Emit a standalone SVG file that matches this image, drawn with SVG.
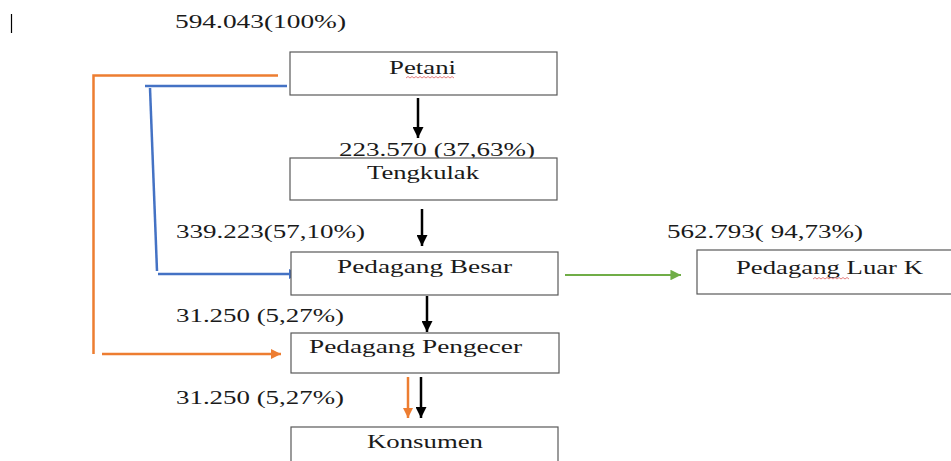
<svg xmlns="http://www.w3.org/2000/svg" width="951" height="461" viewBox="0 0 951 461">
<style>
.box{fill:#fff;stroke:#595959;stroke-width:1.2}
.t{font-family:"Liberation Serif","Times New Roman",serif;font-size:19px;fill:#1a1a1a}
.blk{stroke:#000;stroke-width:2.5;fill:none}
.org{stroke:#ED7D31;stroke-width:2.5;fill:none}
.blu{stroke:#4472C4;stroke-width:2.5;fill:none}
.grn{stroke:#70AD47;stroke-width:2.2;fill:none}
.sq{stroke:#E06060;stroke-width:0.8;fill:none}
</style>
<defs>
<marker id="ab" viewBox="0 0 10 10" refX="10" refY="5" markerWidth="4.4" markerHeight="4.4" markerUnits="strokeWidth" orient="auto"><path d="M0,0 L10,5 L0,10 z" fill="#000"/></marker>
<marker id="ao" viewBox="0 0 10 10" refX="10" refY="5" markerWidth="4.2" markerHeight="4.2" markerUnits="strokeWidth" orient="auto"><path d="M0,0 L10,5 L0,10 z" fill="#ED7D31"/></marker>
<marker id="au" viewBox="0 0 10 10" refX="10" refY="5" markerWidth="4.2" markerHeight="4.2" markerUnits="strokeWidth" orient="auto"><path d="M0,0 L10,5 L0,10 z" fill="#4472C4"/></marker>
<marker id="ag" viewBox="0 0 10 10" refX="10" refY="5" markerWidth="4.8" markerHeight="4.8" markerUnits="strokeWidth" orient="auto"><path d="M0,0 L10,5 L0,10 z" fill="#70AD47"/></marker>
</defs>
<rect width="951" height="461" fill="#fff"/>
<line x1="11.5" y1="14" x2="11.5" y2="33" stroke="#000" stroke-width="1.2"/>
<g id="labels">
<text class="t" x="175" y="28" textLength="171" lengthAdjust="spacingAndGlyphs">594.043(100%)</text>
<text class="t" x="339" y="156" textLength="196" lengthAdjust="spacingAndGlyphs">223.570 (37,63%)</text>
<text class="t" x="176" y="238" textLength="189" lengthAdjust="spacingAndGlyphs">339.223(57,10%)</text>
<text class="t" x="667" y="238" textLength="196" lengthAdjust="spacingAndGlyphs">562.793( 94,73%)</text>
<text class="t" x="176" y="322" textLength="168" lengthAdjust="spacingAndGlyphs">31.250 (5,27%)</text>
<text class="t" x="176" y="404" textLength="168" lengthAdjust="spacingAndGlyphs">31.250 (5,27%)</text>
</g>
<g id="connectors">
<polyline class="org" points="278,75.5 93.5,75.5 93.5,354"/>
<line class="org" x1="102" y1="354" x2="281" y2="354" marker-end="url(#ao)"/>
<line class="blu" x1="287" y1="86" x2="145" y2="86"/>
<line class="blu" x1="150" y1="88" x2="157" y2="271"/>
<line class="blu" x1="158" y1="274" x2="299" y2="274" marker-end="url(#au)"/>
<line class="grn" x1="565" y1="275" x2="681" y2="275" marker-end="url(#ag)"/>
<line class="blk" x1="418" y1="98" x2="418" y2="138" marker-end="url(#ab)"/>
<line class="blk" x1="422" y1="209" x2="422" y2="246" marker-end="url(#ab)"/>
<line class="blk" x1="427" y1="296" x2="427" y2="332" marker-end="url(#ab)"/>
<line class="org" x1="408" y1="377" x2="408" y2="418" marker-end="url(#ao)"/>
<line class="blk" x1="421" y1="377" x2="421" y2="418" marker-end="url(#ab)"/>
</g>
<g id="petani">
<rect class="box" x="290" y="52" width="267" height="43"/>
<text class="t" x="389" y="74" textLength="67" lengthAdjust="spacingAndGlyphs">Petani</text>
<path class="sq" d="M406,78 l2,-1.5 l2,1.5 l2,-1.5 l2,1.5 l2,-1.5 l2,1.5 l2,-1.5 l2,1.5 l2,-1.5 l2,1.5 l2,-1.5 l2,1.5 l2,-1.5 l2,1.5 l2,-1.5 l2,1.5 l2,-1.5 l2,1.5 l2,-1.5 l2,1.5 l2,-1.5 l2,1.5 l2,-1.5 l2,1.5"/>
</g>
<g id="tengkulak">
<rect class="box" x="290" y="158" width="267" height="42"/>
<text class="t" x="367" y="179" textLength="112" lengthAdjust="spacingAndGlyphs">Tengkulak</text>
</g>
<g id="pedagang-besar">
<rect class="box" x="291" y="252" width="267" height="43"/>
<text class="t" x="337" y="273" textLength="175" lengthAdjust="spacingAndGlyphs">Pedagang Besar</text>
</g>
<g id="pedagang-luar">
<rect class="box" x="697" y="250" width="260" height="44"/>
<text class="t" x="736" y="274" textLength="187" lengthAdjust="spacingAndGlyphs">Pedagang Luar K</text>
<path class="sq" d="M813,279 l2,-1.5 l2,1.5 l2,-1.5 l2,1.5 l2,-1.5 l2,1.5 l2,-1.5 l2,1.5 l2,-1.5 l2,1.5 l2,-1.5 l2,1.5 l2,-1.5 l2,1.5 l2,-1.5 l2,1.5 l2,-1.5 l2,1.5"/>
</g>
<g id="pedagang-pengecer">
<rect class="box" x="291" y="333" width="268" height="40"/>
<text class="t" x="309" y="353" textLength="213" lengthAdjust="spacingAndGlyphs">Pedagang Pengecer</text>
</g>
<g id="konsumen">
<rect class="box" x="291" y="427" width="267" height="40"/>
<text class="t" x="367" y="448" textLength="116" lengthAdjust="spacingAndGlyphs">Konsumen</text>
</g>
</svg>
